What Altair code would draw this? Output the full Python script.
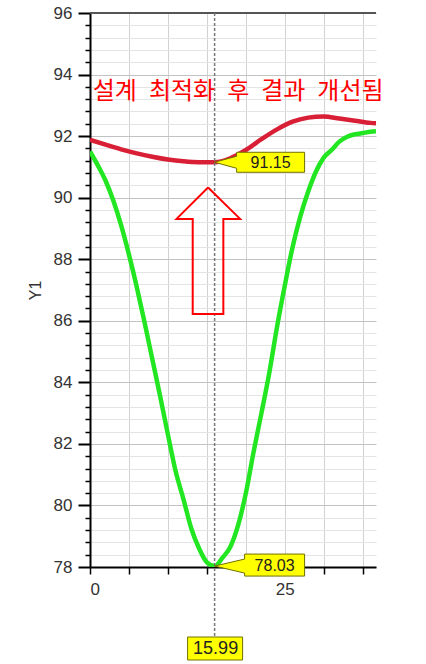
import altair as alt
import pandas as pd

# ---- data ----
red_x = [0, 2, 4, 6, 8, 10, 12, 14, 16, 18, 20, 22, 24, 26, 28, 30, 32, 34, 36, 36.7]
red_y = [91.88, 91.72, 91.57, 91.44, 91.33, 91.24, 91.18, 91.15, 91.15, 91.28,
         91.55, 91.90, 92.22, 92.47, 92.60, 92.64, 92.57, 92.50, 92.43, 92.42]

green_x = list(range(37)) + [36.7]
green_y = [91.50, 91.05, 90.55, 89.90, 89.10, 88.15, 87.10, 85.95, 84.75, 83.55,
           82.30, 81.10, 80.20, 79.25, 78.60, 78.15, 78.03, 78.30, 78.65, 79.35,
           80.40, 81.75, 83.00, 84.30, 85.80, 87.15, 88.40, 89.40, 90.20, 90.85,
           91.30, 91.55, 91.82, 91.98, 92.06, 92.10, 92.14, 92.16]

x_ticks = [0, 5, 10, 15, 20, 25, 30, 35]
y_ticks = [round(78 + 0.4 * i, 1) for i in range(46)]

cursor_x = 15.99
red_min = 91.15
green_min = 78.03
note = "설계\u2002최적화\u2002후\u2002결과\u2002개선됨"

arrow_x = [15.15, 19.26, 17.11, 17.11, 13.18, 13.18, 11.10, 15.15]
arrow_y = [90.33, 89.31, 89.31, 86.22, 86.22, 89.31, 89.31, 90.33]

# ---- tables ----
lines_df = pd.concat([
    pd.DataFrame({"x": red_x, "y": red_y, "s": "red"}),
    pd.DataFrame({"x": green_x, "y": green_y, "s": "green"}),
])
arrow_df = pd.DataFrame({"x": arrow_x, "y": arrow_y, "o": list(range(len(arrow_x)))})
cursor_df = pd.DataFrame({"x": [cursor_x], "label": [f"{cursor_x:.2f}"]})
red_pt = pd.DataFrame({"x": [cursor_x], "y": [red_min], "label": [f"{red_min:.2f}"]})
green_pt = pd.DataFrame({"x": [cursor_x], "y": [green_min], "label": [f"{green_min:.2f}"]})
note_df = pd.DataFrame({"x": [0.35], "y": [93.42], "t": [note]})

FONT = "Liberation Sans"
major = "abs(datum.value - 2 * round(datum.value / 2)) < 0.01"

xscale = alt.Scale(domain=[0, 36.7], nice=False, zero=False)
yscale = alt.Scale(domain=[78, 96], nice=False, zero=False)

x_axis = alt.Axis(
    values=x_ticks, labelExpr="datum.value % 25 == 0 ? datum.label : ''",
    grid=True, gridColor="#d2d2d2", gridWidth=1,
    tickSize=7, tickColor="black", tickWidth=1.5,
    domainColor="black", domainWidth=2,
    labelFontSize=17, labelFont=FONT, labelColor="#333", labelPadding=7,
    labelOverlap=False, title=None,
)
y_axis = alt.Axis(
    values=y_ticks, labelExpr=f"{major} ? '' + round(datum.value) : ''",
    labelOverlap=False,
    grid=True,
    gridColor={"condition": {"test": major, "value": "#c2c2c2"}, "value": "#e4e4e4"},
    gridWidth=1,
    tickSize={"condition": {"test": major, "value": 12}, "value": 5},
    tickWidth={"condition": {"test": major, "value": 2}, "value": 1.5},
    tickColor="black",
    domainColor="black", domainWidth=2,
    labelFontSize=17, labelFont=FONT, labelColor="#333", labelPadding=6,
    title="Y1", titleFont=FONT, titleFontSize=16, titleFontWeight="normal",
    titleColor="#333", titlePadding=10,
)

def X():
    return alt.X("x:Q", scale=xscale, axis=x_axis)

def Y():
    return alt.Y("y:Q", scale=yscale, axis=y_axis)

lines = alt.Chart(lines_df).mark_line(strokeWidth=4.5, interpolate="monotone", clip=True).encode(
    x=X(), y=Y(),
    color=alt.Color("s:N", scale=alt.Scale(domain=["red", "green"], range=["#d81f36", "#22e622"]), legend=None),
    detail="s:N",
)

top_border = alt.Chart(cursor_df).mark_rule(color="#555", strokeWidth=2).encode(
    x=alt.value(0), x2=alt.value(286), y=alt.value(0)
)

cursor_rule = alt.Chart(cursor_df).mark_rule(color="#777", strokeWidth=1.5, strokeDash=[3, 2]).encode(
    x=X(), y=alt.value(0), y2=alt.value(624)
)

arrow = alt.Chart(arrow_df).mark_line(color="#ff0000", strokeWidth=2).encode(
    x=X(), y=Y(), order="o:Q"
)

def callout(df, path, dx, dy):
    box = alt.Chart(df).mark_point(
        shape=path, size=4, filled=True, fill="#ffff00", stroke="#707000",
        strokeWidth=1, opacity=1,
    ).encode(x=X(), y=Y())
    txt = alt.Chart(df).mark_text(
        dx=dx, dy=dy, align="center", baseline="middle", fontSize=16, font=FONT, color="#222"
    ).encode(x=X(), y=Y(), text="label:N")
    return [box, txt]

red_call = callout(red_pt, "M0,0 L22,-6 L22,-10 L90,-10 L90,10 L22,10 L22,6 Z", 56, 1)
green_call = callout(green_pt, "M0,0 L30,-7 L30,-12 L90,-12 L90,10 L30,10 L30,7 Z", 60, 0)

cursor_box = alt.Chart(cursor_df).mark_point(
    shape="M-27,-11.5 L28,-11.5 L28,11.5 L-27,11.5 Z", size=4, filled=True,
    fill="#ffff00", stroke="#707000", strokeWidth=1, opacity=1,
).encode(x=X(), y=alt.value(635.5))
cursor_txt = alt.Chart(cursor_df).mark_text(
    align="center", baseline="middle", fontSize=18, font=FONT, color="#222", dx=1
).encode(x=X(), y=alt.value(636), text="label:N")

note_txt = alt.Chart(note_df).mark_text(
    align="left", baseline="middle", fontSize=24, font="Noto Sans CJK KR", color="#ff0000"
).encode(x=X(), y=Y(), text="t:N")

chart = alt.layer(
    lines, top_border, cursor_rule, arrow, *red_call, *green_call,
    cursor_box, cursor_txt, note_txt,
).properties(
    width=286, height=554,
    padding={"left": 90, "top": 13, "right": 50, "bottom": 97},
    autosize=alt.AutoSizeParams(type="none"),
    background="white",
).configure_view(stroke=None)

chart.save("out.html", embed_options={"renderer": "svg", "actions": False})
